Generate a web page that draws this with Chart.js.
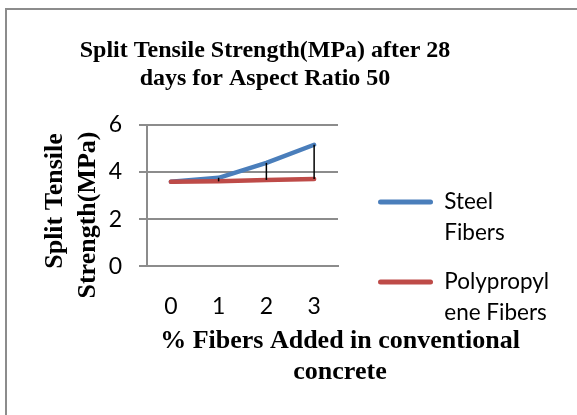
<!DOCTYPE html>
<html>
<head>
<meta charset="utf-8">
<script src="https://cdn.jsdelivr.net/npm/chart.js@4.4.1/dist/chart.umd.min.js"></script>
<style>
  html, body { margin: 0; padding: 0; background: #fff; }
  #wrap { position: relative; width: 577px; height: 415px; overflow: hidden; }
  #frame { position: absolute; left: 5px; top: 8px; width: 640px; height: 500px; border: 2px solid #8c8c8c; box-sizing: border-box; }
  #myChart { position: absolute; left: 0; top: 0; }
</style>
</head>
<body>
<div id="wrap">
  <div id="frame"></div>
  <canvas id="myChart" width="577" height="415"></canvas>
</div>
<script>
// data
const fiberPercent = ['0', '1', '2', '3'];
const steelFibers = [3.58, 3.75, 4.38, 5.15];
const polypropyleneFibers = [3.58, 3.6, 3.66, 3.7];
const yTicks = [0, 2, 4, 6];

const xTitle = ['% Fibers Added in conventional', 'concrete'];
const yTitle = ['Split Tensile', 'Strength(MPa)'];

const serif = "'Liberation Serif', 'Times New Roman', serif";
const sans = "Lato, 'Liberation Sans', sans-serif";
const gridGrey = '#8c8c8c';

// black high-low lines between the two series
const highLow = {
  id: 'highLow',
  afterDatasetsDraw(chart) {
    const { ctx, scales } = chart;
    ctx.save();
    ctx.strokeStyle = '#000';
    ctx.lineWidth = 1.5;
    fiberPercent.forEach((c, i) => {
      const hi = steelFibers[i], lo = polypropyleneFibers[i];
      if (hi === lo) return;
      const x = scales.x.getPixelForValue(i);
      ctx.beginPath();
      ctx.moveTo(x, scales.y.getPixelForValue(hi));
      ctx.lineTo(x, scales.y.getPixelForValue(lo));
      ctx.stroke();
    });
    ctx.restore();
  }
};

// move the legend down / right like the office chart
const legendPlace = {
  id: 'legendPlace',
  afterLayout(chart) {
    const lg = chart.legend;
    if (!lg) return;
    lg.left += 22;
    lg.right += 22;
    lg.top = 172.7;
    lg.bottom = 405;
  }
};

// axis titles, drawn free so they are not squeezed to the plot width
const axisTitles = {
  id: 'axisTitles',
  afterDraw(chart) {
    const { ctx } = chart;
    ctx.save();
    ctx.fillStyle = '#000';
    ctx.font = 'bold 26px ' + serif;
    ctx.textAlign = 'center';
    ctx.textBaseline = 'middle';
    ctx.fillText(xTitle[0], 340, 341);
    ctx.fillText(xTitle[1], 340, 372);
    [[yTitle[0], 55, 201], [yTitle[1], 88, 215]].forEach(([t, x, y]) => {
      ctx.save();
      ctx.translate(x, y);
      ctx.rotate(-Math.PI / 2);
      ctx.fillText(t, 0, 0);
      ctx.restore();
    });
    ctx.restore();
  }
};

const ctx = document.getElementById('myChart');

let myChart = new Chart(ctx, {
  type: 'line',
  data: {
    labels: fiberPercent,
    datasets: [
      {
        label: ['Steel', 'Fibers'],
        data: steelFibers,
        borderColor: '#4a7ebb',
        backgroundColor: '#4a7ebb',
        borderWidth: 4.5,
        borderCapStyle: 'round',
        borderJoinStyle: 'round',
        pointRadius: 0,
        tension: 0,
        order: 1
      },
      {
        label: ['Polypropyl', 'ene Fibers'],
        data: polypropyleneFibers,
        borderColor: '#be4b48',
        backgroundColor: '#be4b48',
        borderWidth: 4.5,
        borderCapStyle: 'round',
        borderJoinStyle: 'round',
        pointRadius: 0,
        tension: 0,
        order: 0
      }
    ]
  },
  options: {
    responsive: false,
    animation: false,
    devicePixelRatio: 1,
    layout: { padding: { left: 0, right: 47, top: 0, bottom: 0 } },
    plugins: {
      title: {
        display: true,
        text: ['Split Tensile Strength(MPa) after 28', 'days for Aspect Ratio 50'],
        color: '#000',
        font: { family: serif, size: 24, weight: 'bold', lineHeight: 28 / 24 },
        padding: { top: 37, bottom: 31.7 }
      },
      legend: {
        position: 'right',
        align: 'start',
        maxWidth: 192,
        labels: {
          color: '#000',
          font: { family: sans, size: 22.5, lineHeight: 31 / 22.5 },
          boxWidth: 55,
          boxHeight: 5,
          padding: 18,
          useBorderRadius: true,
          borderRadius: 2.5,
          sort: (a, b) => a.datasetIndex - b.datasetIndex,
          generateLabels(chart) {
            return Chart.defaults.plugins.legend.labels.generateLabels(chart).map(item => ({
              ...item,
              fillStyle: item.strokeStyle,
              lineWidth: 0
            }));
          }
        }
      },
      tooltip: { enabled: false }
    },
    scales: {
      x: {
        offset: true,
        afterFit(scale) { scale.height = 148.7; },
        grid: { display: false, drawTicks: false },
        border: { display: true, color: gridGrey, width: 2 },
        ticks: {
          color: '#000',
          padding: 26,
          font: { family: sans, size: 23 }
        }
      },
      y: {
        min: 0,
        max: 6,
        afterFit(scale) { scale.width = 147; },
        afterBuildTicks(scale) {
          scale.ticks = yTicks.map(v => ({ value: v }));
        },
        grid: { color: gridGrey, lineWidth: 2, tickLength: 8 },
        border: { display: true, color: gridGrey, width: 2 },
        ticks: {
          color: '#000',
          padding: 17,
          font: { family: sans, size: 23 }
        }
      }
    }
  },
  plugins: [highLow, legendPlace, axisTitles]
});
</script>
</body>
</html>
